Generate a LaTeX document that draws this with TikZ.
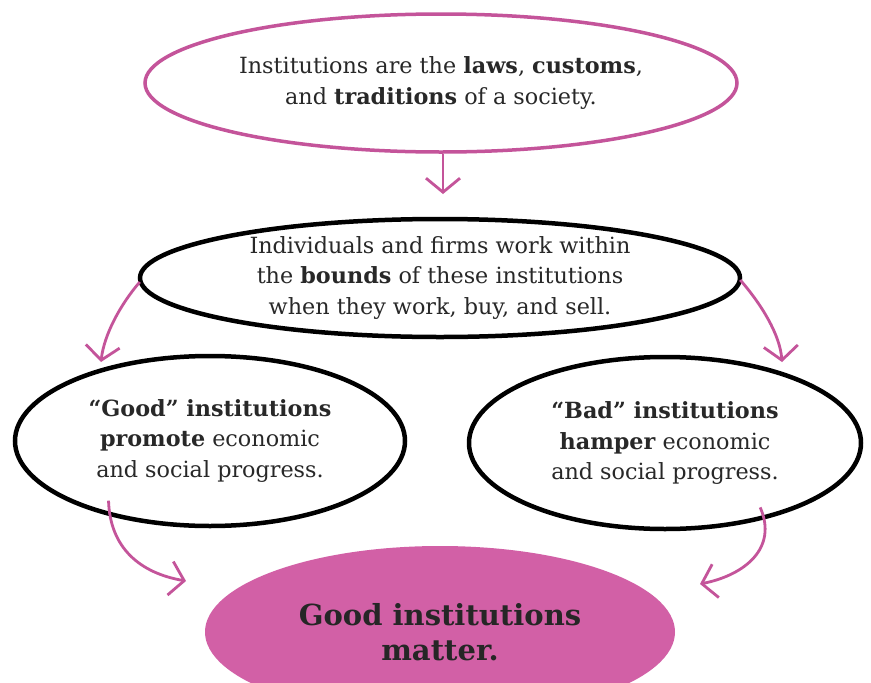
\documentclass[tikz,border=0pt]{standalone}
\usepackage{fontspec}
\setmainfont{DejaVu Serif}
\usetikzlibrary{shapes.geometric,arrows.meta}
\definecolor{pinkline}{RGB}{196,84,154}
\definecolor{pinkfill}{RGB}{210,96,166}
\definecolor{inktext}{RGB}{40,40,40}
\tikzset{
  pinkoval/.style={draw=pinkline, line width=3.5pt, ellipse, inner sep=0pt, align=center, text=inktext},
  blackoval/.style={draw=black, line width=4.5pt, ellipse, inner sep=0pt, align=center, text=inktext},
  filloval/.style={fill=pinkfill, ellipse, inner sep=0pt, align=center, text=black!85},
  flow/.style={draw=pinkline, line width=2.8pt, -{Straight Barb[length=14pt,width=34pt,line width=2.8pt]}},
  bodytext/.style={font=\fontsize{22.3}{30.5}\selectfont},
}
\begin{document}
\begin{tikzpicture}[x=1pt,y=-1pt]
\useasboundingbox (0,0) rectangle (871,683);
\fill[white] (0,0) rectangle (871,683);

\node[pinkoval, bodytext, minimum width=592pt, minimum height=138pt] (top) at (441,83)
  {Institutions are the \textbf{laws}, \textbf{customs},\\ and \textbf{traditions} of a society.};

\node[blackoval, bodytext, minimum width=600pt, minimum height=118pt] (mid) at (440,278)
  {Individuals and firms work within\\ the \textbf{bounds} of these institutions\\ when they work, buy, and sell.};

\node[blackoval, bodytext, minimum width=390pt, minimum height=170pt] (good) at (210,441)
  {\textbf{“Good” institutions}\\ \textbf{promote} economic\\ and social progress.};

\node[blackoval, bodytext, minimum width=392pt, minimum height=172pt] (bad) at (665,443)
  {\textbf{“Bad” institutions}\\ \textbf{hamper} economic\\ and social progress.};

\node[filloval, font=\fontsize{29}{35}\selectfont\bfseries, minimum width=470pt, minimum height=172pt] (matter) at (440,632)
  {Good institutions\\ matter.};

\coordinate (t1) at (443,194);
\draw[flow] (top.south) ++(2,0) -- (t1);

\coordinate (l1) at (101,362);
\coordinate (r1) at (782,362);
\draw[flow] (mid.west) ++(2,4) .. controls (120,305) and (104,335) .. (l1);
\draw[flow] (mid.east) ++(-2,2) .. controls (762,305) and (780,335) .. (r1);

\coordinate (l2) at (186,581);
\coordinate (r2) at (700,584);
\draw[flow] (good.south west) ++(38,-2) .. controls (110,548) and (140,573) .. (l2);
\draw[flow] (bad.south east) ++(-45,2) .. controls (778,548) and (745,575) .. (r2);
\end{tikzpicture}
\end{document}
